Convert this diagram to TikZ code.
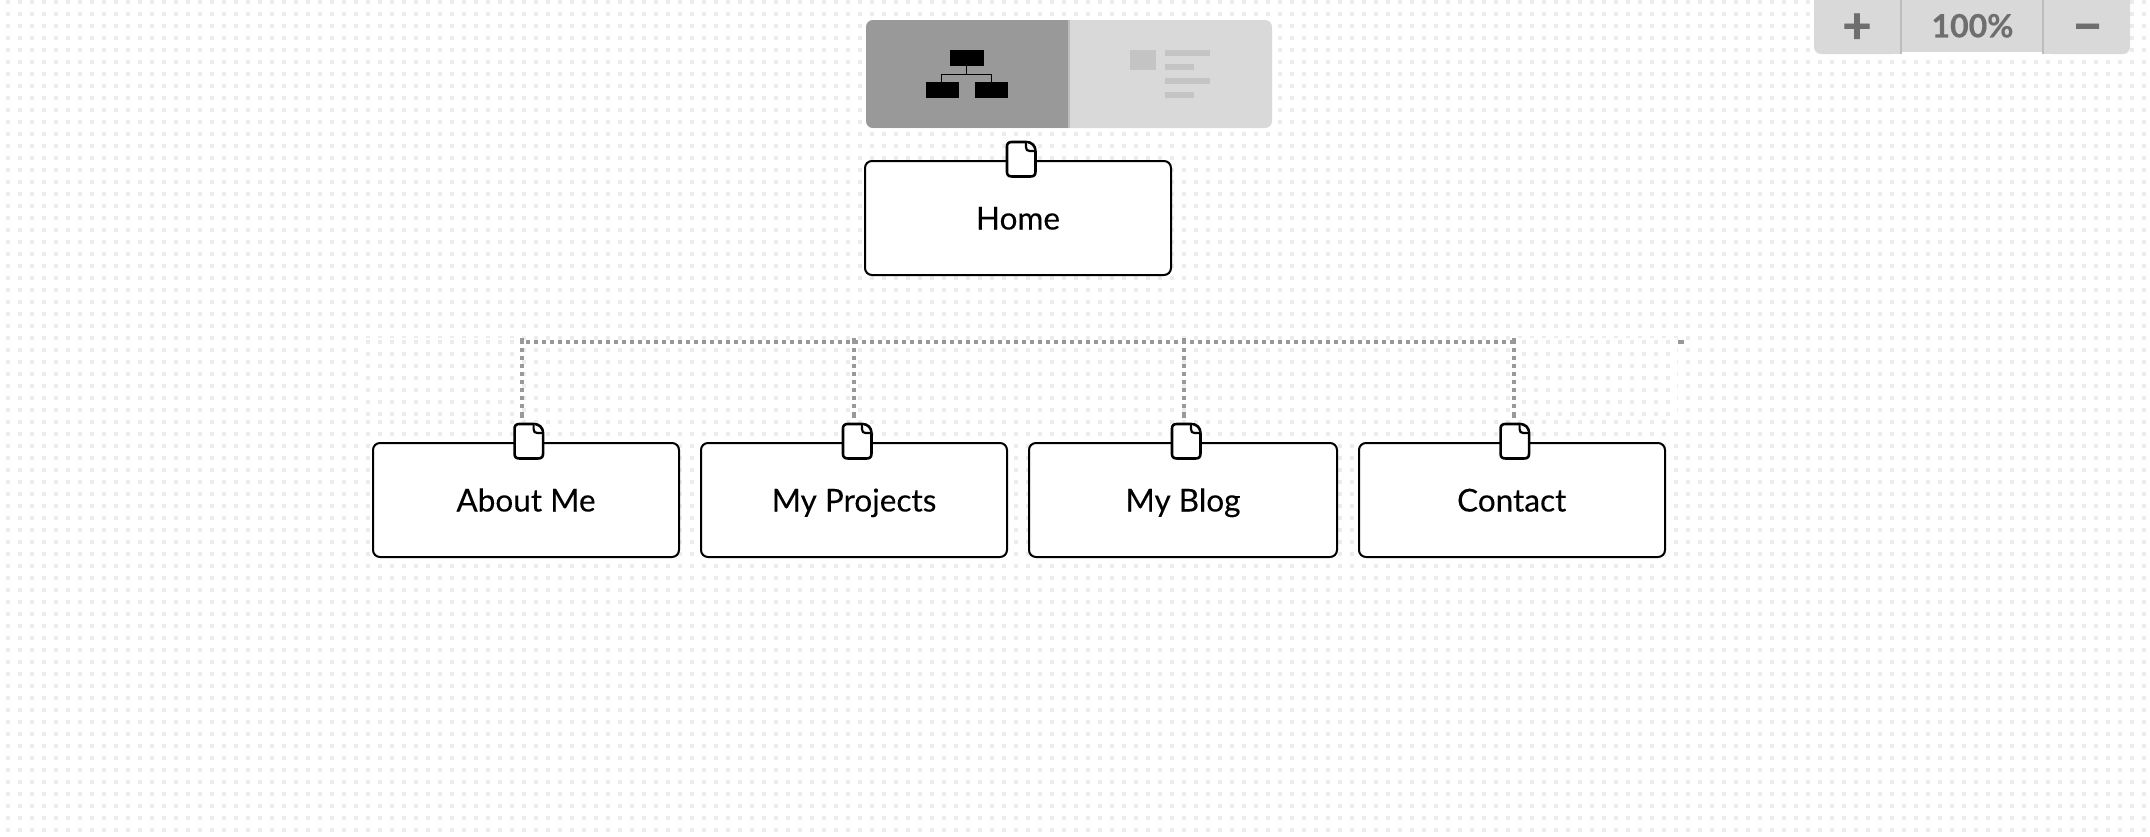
\documentclass[tikz,border=0pt]{standalone}
\usepackage{fontspec}
\setmainfont{Lato}[FakeBold=0.12]
\newfontface\heavyface{Lato Bold}[FakeBold=1.6]
\newfontface\boldface{Lato Bold}[FakeBold=0.5]
\definecolor{griddot}{HTML}{ECECEC}
\definecolor{barbg}{HTML}{D9D9D9}
\definecolor{bardiv}{HTML}{BDBDBD}
\definecolor{barfg}{HTML}{6E6E6E}
\definecolor{activebg}{HTML}{999999}
\definecolor{faint}{HTML}{C4C4C4}
\definecolor{linkgray}{HTML}{999999}
\tikzset{
  griddots/.style={griddot,line width=4pt,dash pattern=on 4pt off 8pt},
  pagebox/.style={draw=black,line width=2pt,fill=white,rounded corners=7pt,inner sep=0pt,outer sep=0pt},
  pagelabel/.style={font=\fontsize{31.5}{38}\selectfont,text=black,anchor=base,inner sep=0pt},
  iconbox/.style={inner sep=0pt,outer sep=0pt,minimum width=31pt,minimum height=37pt,anchor=north west},
  iconline/.style={draw=black,line width=2.6pt,fill=white,line join=round},
  foldline/.style={draw=black,line width=2.2pt,fill=white,line join=round},
  linkline/.style={draw=linkgray,line width=4pt,dash pattern=on 4pt off 4pt},
  linkend/.style={draw=linkgray,line width=4pt},
  barlabel/.style={text=barfg,inner sep=0pt,anchor=base},
}
\newcommand{\pagebox}[5]{% name, x0, y0, x1, y1
  \node[pagebox,minimum width={#4-#2},minimum height={#5-#3},anchor=north west] (#1) at (#2,#3) {};}
\newcommand{\docicon}[3]{% name, x, y
  \node[iconbox] (#1) at (#2,#3) {};
  \begin{scope}[shift={(#2,#3)}]
    \path[iconline] (6.5,1.25) -- (20.3,1.25) .. controls (26,1.25) and (29.75,5) .. (29.75,10.3)
      -- (29.75,31) .. controls (29.75,34.2) and (28.2,35.75) .. (25,35.75)
      -- (6,35.75) .. controls (2.8,35.75) and (1.25,34.2) .. (1.25,31)
      -- (1.25,6) .. controls (1.25,2.8) and (2.8,1.25) .. (6.5,1.25) -- cycle;
    \path[foldline] (20.3,1.25) -- (20.3,6.5) .. controls (20.3,9) and (21.5,10.3) .. (24,10.3) -- (29.75,10.3);
  \end{scope}}
\begin{document}
\begin{tikzpicture}[x=1pt,y=-1pt]
\fill[white] (0,0) rectangle (2150,836);
\useasboundingbox (0,0) rectangle (2150,836);
% background dots
\foreach \r in {0,...,69} {
  \draw[griddots] (6,{2+12*\r}) -- (2150,{2+12*\r});
}
% dotted bus
\coordinate (busStart) at (518,342);
\coordinate (busEnd) at (1682,342);
\coordinate (busTail) at (1684,342);
\draw[linkline] (busStart) -- (busEnd);
\draw[linkend] (busEnd) -- (busTail);
% patches
\fill[white] (362,337.5) rectangle (520,420);
\begin{scope}
  \clip (362,337.5) rectangle (520,420);
  \foreach \r in {0,...,6} { \draw[griddots] (366,{342+12*\r}) -- (520,{342+12*\r}); }
\end{scope}
\fill[white] (1516,337.5) rectangle (1677,420);
\begin{scope}
  \clip (1516,337.5) rectangle (1677,420);
  \foreach \r in {0,...,6} { \draw[griddots] (1522,{342+12*\r}) -- (1670,{342+12*\r}); }
\end{scope}
% view switch
\fill[barbg,rounded corners=7pt] (866,20) rectangle (1272,128);
\begin{scope}
  \clip[rounded corners=7pt] (866,20) rectangle (1272,128);
  \fill[activebg] (866,20) rectangle (1068,128);
  \fill[bardiv] (1068,20) rectangle (1070,128);
\end{scope}
\fill[black] (949.7,50) rectangle (983.7,66);
\fill[black] (926,82) rectangle (959,98);
\fill[black] (974.7,82) rectangle (1007.7,98);
\draw[black,line width=1.3pt] (966.5,66) -- (966.5,74.7);
\draw[black,line width=1.3pt] (941.7,82) -- (941.7,74.7) -- (991.7,74.7) -- (991.7,82);
\fill[faint] (1130,50) rectangle (1156,70);
\fill[faint] (1164.7,50) rectangle (1210,56);
\fill[faint] (1164.7,64) rectangle (1194,70);
\fill[faint] (1164.7,78) rectangle (1210,84);
\fill[faint] (1164.7,92) rectangle (1194,98);
% zoom control
\fill[barbg,rounded corners=7pt] (1814,-8) rectangle (1900,54);
\fill[barbg,rounded corners=7pt] (2044,-8) rectangle (2130,54);
\fill[white] (1900,52) rectangle (2044,54);
\fill[barbg] (1895,-8) rectangle (1900,54);
\fill[barbg] (2044,-8) rectangle (2049,54);
\fill[barbg] (1902,-8) rectangle (2042,52);
\fill[bardiv] (1900,-8) rectangle (1902,54);
\fill[bardiv] (2042,-8) rectangle (2044,54);
\node[barlabel,font=\fontsize{50}{54}\heavyface] (zoomin) at (1857,43) {+};
\node[barlabel,font=\fontsize{32}{38}\boldface] (zoomval) at (1972.5,37.3) {100\%};
\node[barlabel,font=\fontsize{50}{54}\heavyface] (zoomout) at (2087.5,43) {−};
% page boxes
\pagebox{homeBox}{865}{161}{1171}{275}
\pagebox{aboutBox}{373}{443}{679}{557}
\pagebox{projBox}{701}{443}{1007}{557}
\pagebox{blogBox}{1029}{443}{1337}{557}
\pagebox{contactBox}{1359}{443}{1665}{557}
\node[pagelabel] (homeLabel) at (1018,229.5) {Home};
\node[pagelabel] (aboutLabel) at (526,511.5) {About Me};
\node[pagelabel] (projLabel) at (854,511.5) {My Projects};
\node[pagelabel] (blogLabel) at (1183,511.5) {My Blog};
\node[pagelabel] (contactLabel) at (1511.7,511.5) {Contact};
% icons
\docicon{homeIcon}{1005.7}{140.7}
\docicon{aboutIcon}{513.3}{422.7}
\docicon{projIcon}{841.7}{422.7}
\docicon{blogIcon}{1170.7}{422.7}
\docicon{contactIcon}{1499.3}{422.7}
% drops
\coordinate (dropA) at (522,340);
\coordinate (dropB) at (854,340);
\coordinate (dropC) at (1184,340);
\coordinate (dropD) at (1514,340);
\foreach \d/\i in {dropA/aboutIcon,dropB/projIcon,dropC/blogIcon,dropD/contactIcon} {
  \draw[linkline,shorten >=6.7pt] (\d) -- (\d |- \i.north);
  \draw[linkend] (\d) -- ++(0,-2);
  \draw[linkend] ([yshift=6.7pt]\d |- \i.north) -- ([yshift=4.7pt]\d |- \i.north);
}
\end{tikzpicture}
\end{document}
